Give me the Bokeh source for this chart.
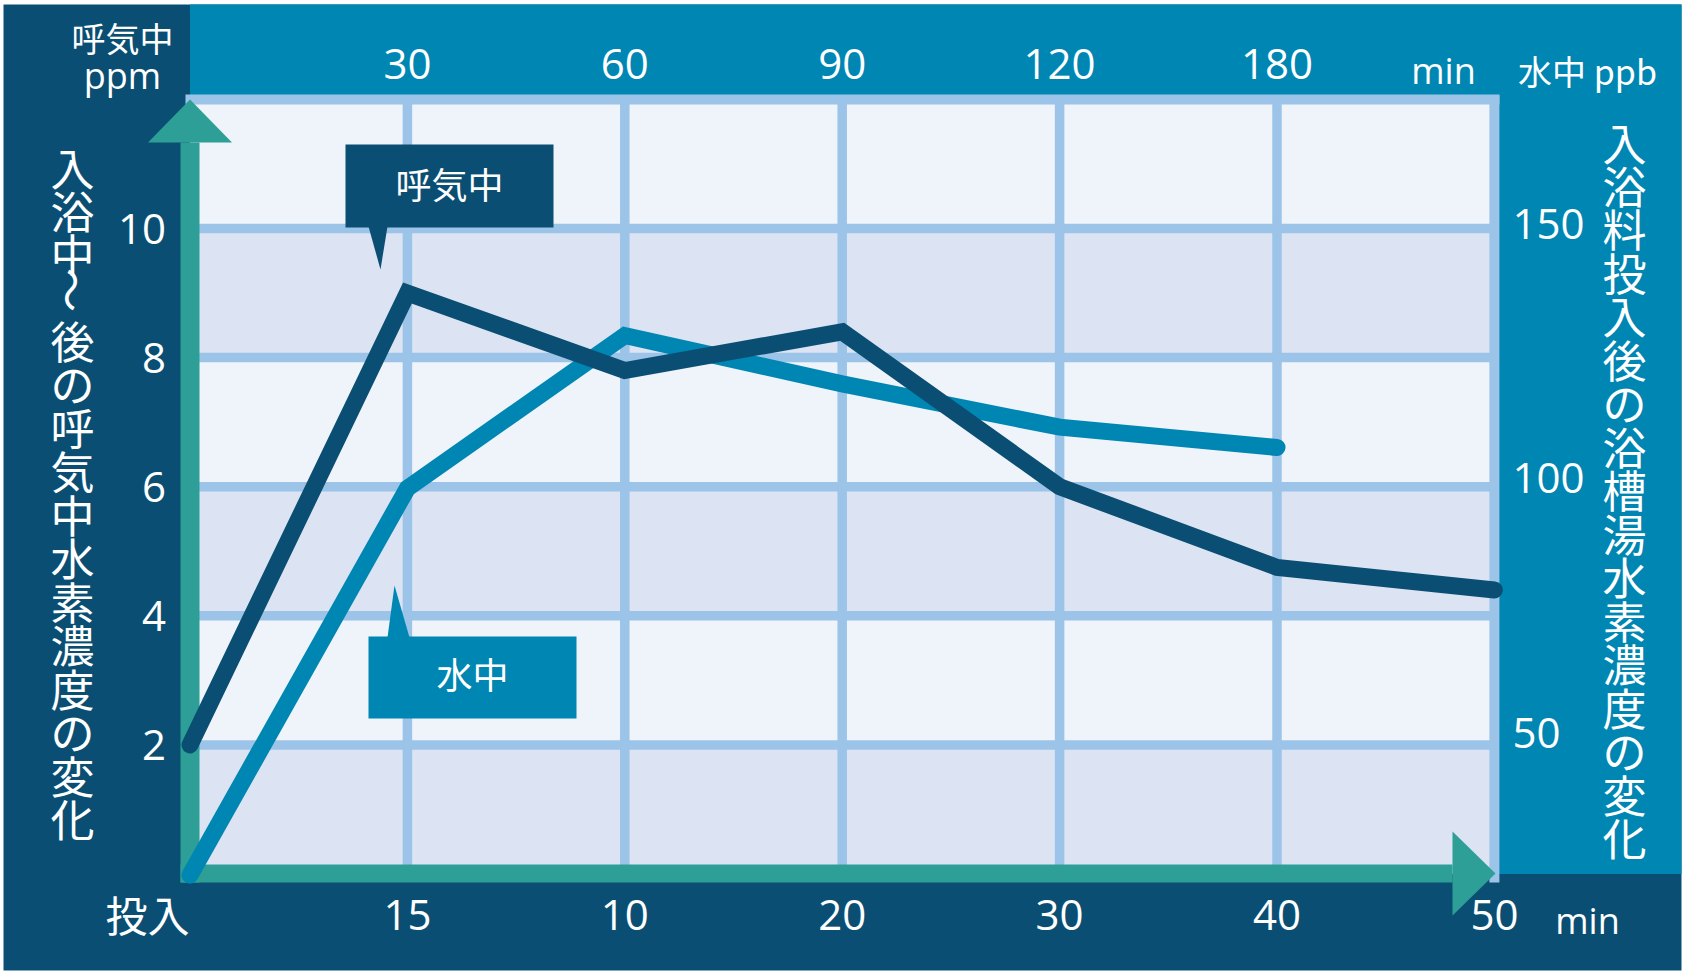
import math
from bokeh.plotting import figure
from bokeh.models import Range1d, LinearAxis, FixedTicker, Label
from bokeh.embed import file_html
from bokeh.resources import INLINE

# ---------------- data ----------------
x_pos = [0, 1, 2, 3, 4, 5, 6]
bottom_tick_labels = ["投入", "15", "10", "20", "30", "40", "50"]
top_tick_labels = ["30", "60", "90", "120", "180"]
left_ticks = [2, 4, 6, 8, 10]
right_ticks = [50, 100, 150]
breath_ppm = [2.0, 9.0, 7.8, 8.4, 6.0, 4.75, 4.4]      # 呼気中 (ppm, left axis)
water_ppb = [22, 98, 128, 118.5, 110, 106]             # 水中 (ppb, right axis)
left_title = "入浴中〜後の呼気中水素濃度の変化"
right_title = "入浴料投入後の浴槽湯水素濃度の変化"

# ---------------- colours ----------------
NAVY = "#0a4f73"
BLUE = "#0086b3"
GREEN = "#2e9f96"
GRID = "#9bc4e8"
LIGHT = "#eff3fa"
BAND = "#dce3f2"

# ---------------- layout helpers (canvas pixel -> data) ----------------
W, H = 1684, 974
X0, XU = 189.5, 217.4
Y0, YU = 873.5, 64.55


def dx(px):
    return (px - X0) / XU


def dy(py):
    return (Y0 - py) / YU


# mapping of the right (ppb) scale against the left (ppm) scale
PPB_REF, L_REF, PPB_PER_L = 150.0, 10.077, 12.68


def to_ppb(L):
    return PPB_REF + (L - L_REF) * PPB_PER_L


XMAX = len(x_pos) - 1
YMAX = 12

p = figure(width=W, height=H,
           x_range=Range1d(dx(0), dx(W)),
           y_range=Range1d(dy(H), dy(0)),
           x_axis_location=None, y_axis_location=None,
           toolbar_location=None, output_backend="svg",
           min_border=0, outline_line_color=None,
           background_fill_color="white", border_fill_color="white")
p.extra_y_ranges = {"ppb": Range1d(to_ppb(dy(H)), to_ppb(dy(0)))}
for g in p.grid:
    g.visible = False

# navy card, blue strips (top + right) and plot area
p.quad(left=dx(3), right=dx(1681), bottom=dy(970), top=dy(4), fill_color=NAVY, line_color=None)
p.quad(left=0, right=dx(1681), bottom=0, top=dy(4), fill_color=BLUE, line_color=None)
p.quad(left=0, right=XMAX, bottom=0, top=YMAX, fill_color=LIGHT, line_color=None)
band_bottoms = [0] + left_ticks[1::2]
band_tops = left_ticks[0::2]
p.quad(left=[0] * len(band_tops), right=[XMAX] * len(band_tops),
       bottom=band_bottoms, top=band_tops, fill_color=BAND, line_color=None)

# grid lines
GW = 9.5
hy = left_ticks
p.segment(x0=[0] * len(hy), x1=[XMAX] * len(hy), y0=hy, y1=hy,
          line_color=GRID, line_width=GW)
vx = x_pos[1:-1]
p.segment(x0=vx, x1=vx, y0=[0] * len(vx), y1=[YMAX] * len(vx),
          line_color=GRID, line_width=GW)
# frame borders (top, right)
p.segment(x0=[dx(185)], x1=[dx(1499)], y0=[YMAX], y1=[YMAX], line_color=GRID, line_width=10)
p.segment(x0=[XMAX], x1=[XMAX], y0=[dy(882)], y1=[dy(95)], line_color=GRID, line_width=10)

# green axis arrows
p.quad(left=dx(180), right=dx(199), bottom=dy(882), top=dy(142), fill_color=GREEN, line_color=None)
p.quad(left=dx(180), right=dx(1452), bottom=dy(882), top=dy(864), fill_color=GREEN, line_color=None)
p.patch([dx(147.5), dx(231.5), dx(189.5)], [dy(142), dy(142), dy(99)],
        fill_color=GREEN, line_color=None)
p.patch([dx(1452), dx(1452), dx(1495)], [dy(831), dy(915), dy(873)],
        fill_color=GREEN, line_color=None)

# data lines
p.line(x_pos[:len(water_ppb)], water_ppb, y_range_name="ppb", line_color=BLUE,
       line_width=17, line_cap="round", line_join="miter")
p.line(x_pos, breath_ppm, line_color=NAVY, line_width=17,
       line_cap="round", line_join="miter")

# speech bubbles
p.quad(left=dx(345), right=dx(553), top=dy(144), bottom=dy(227), fill_color=NAVY, line_color=None)
p.patch([dx(368), dx(387), dx(380)], [dy(226), dy(226), dy(269)], fill_color=NAVY, line_color=None)
p.quad(left=dx(368), right=dx(576), top=dy(636), bottom=dy(718), fill_color=BLUE, line_color=None)
p.patch([dx(387), dx(409), dx(394)], [dy(637), dy(637), dy(585)], fill_color=BLUE, line_color=None)

CJK = "Noto Sans CJK JP"
LAT = "Open Sans"


def add_label(x, y, text, size, font=CJK, align="center", baseline="middle", **kw):
    p.add_layout(Label(x=x, y=y, text=text, text_color="white", text_font=font,
                       text_font_size=size, text_align=align, text_baseline=baseline, **kw))


add_label(dx(449), dy(182), "呼気中", "36px")
add_label(dx(472), dy(672), "水中", "36px")


# ---------------- axes ----------------
def style_axis(ax, size="42px"):
    ax.axis_line_color = None
    ax.major_tick_line_color = None
    ax.minor_tick_line_color = None
    ax.major_tick_out = 0
    ax.major_tick_in = 0
    ax.major_label_text_color = "white"
    ax.major_label_text_font = LAT
    ax.major_label_text_font_size = size


ax_left = LinearAxis(fixed_location=0, ticker=FixedTicker(ticks=left_ticks), major_label_standoff=24)
style_axis(ax_left)
p.add_layout(ax_left, "left")

ax_bottom = LinearAxis(fixed_location=0, ticker=FixedTicker(ticks=x_pos[1:]),
                       major_label_overrides={x: lab for x, lab in zip(x_pos[1:], bottom_tick_labels[1:])},
                       major_label_standoff=26)
style_axis(ax_bottom)
p.add_layout(ax_bottom, "below")

top_x = x_pos[1:1 + len(top_tick_labels)]
ax_top = LinearAxis(fixed_location=dy(100), ticker=FixedTicker(ticks=top_x),
                    major_label_overrides={x: lab for x, lab in zip(top_x, top_tick_labels)},
                    major_label_standoff=22)
style_axis(ax_top)
p.add_layout(ax_top, "above")

ax_right = LinearAxis(y_range_name="ppb", fixed_location=dx(1499),
                      ticker=FixedTicker(ticks=right_ticks), major_label_standoff=13)
style_axis(ax_right)
p.add_layout(ax_right, "right")

# ---------------- other texts ----------------
add_label(dx(189), dy(913), bottom_tick_labels[0], "42px", align="right")
add_label(dx(122), dy(37), "呼気中", "34px")
add_label(dx(122), dy(75), "ppm", "36px", font=LAT, baseline="alphabetic")
add_label(dx(1443), dy(70), "min", "36px", font=LAT, baseline="alphabetic")
add_label(dx(1587), dy(70), "水中 ppb", "34px", baseline="alphabetic")
add_label(dx(1587), dy(920), "min", "36px", font=LAT, baseline="alphabetic")

PITCH = 43.3
FS = 44
LH = PITCH / (1.448 * FS)
TOP_L = 134
i_t = left_title.index("〜")
add_label(dx(72), dy(TOP_L), "\n".join(left_title[:i_t]), f"{FS}px", baseline="top",
          text_line_height=LH)
add_label(dx(72), dy(TOP_L + 4 + PITCH * (i_t + 0.5)), "〜", f"{FS}px", angle=-math.pi / 2)
add_label(dx(72), dy(TOP_L + PITCH * (i_t + 1)), "\n".join(left_title[i_t + 1:]), f"{FS}px",
          baseline="top", text_line_height=LH)
add_label(dx(1624), dy(109), "\n".join(right_title), f"{FS}px", baseline="top",
          text_line_height=LH)

open("out.html", "w").write(file_html(p, INLINE))
